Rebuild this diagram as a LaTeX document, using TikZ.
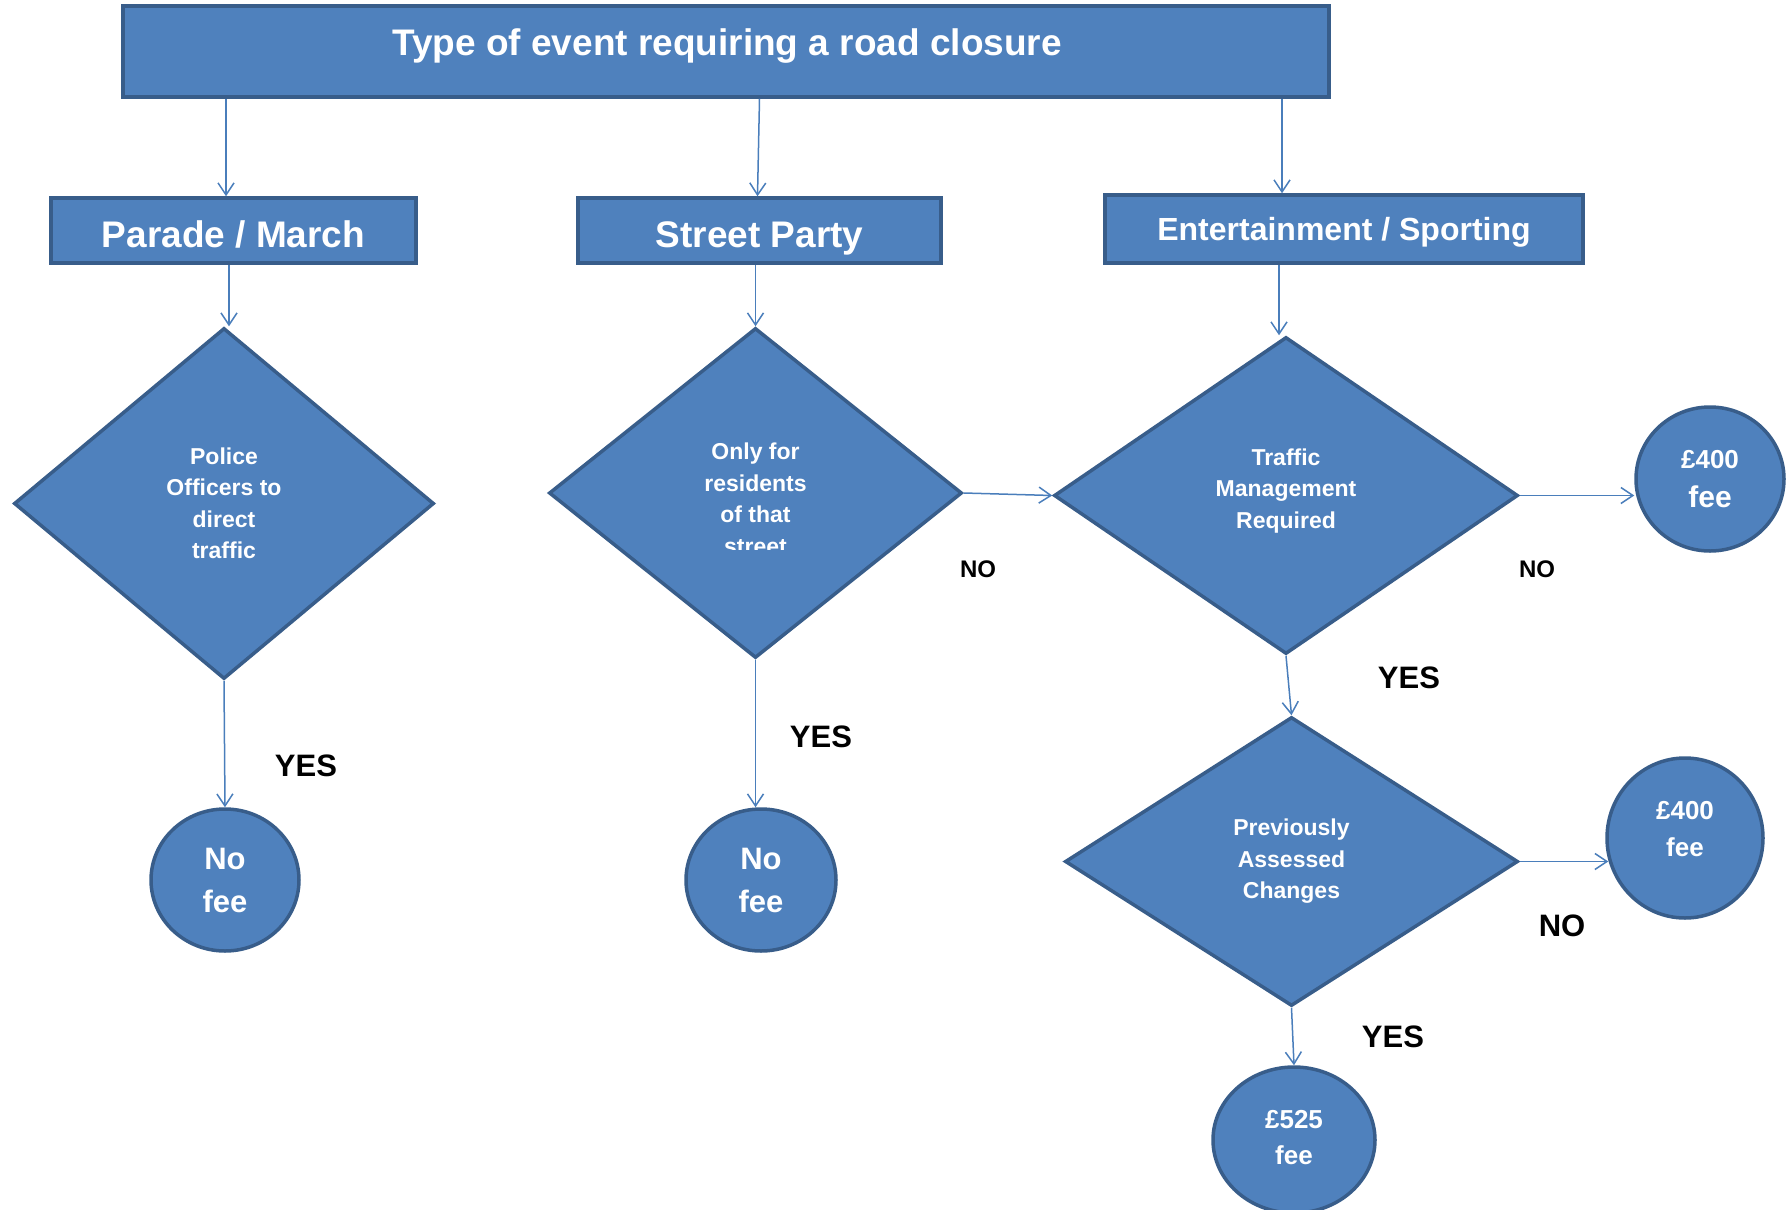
\documentclass[tikz,border=0pt]{standalone}
\usepackage{fontspec}
\setmainfont{Liberation Sans}
\usetikzlibrary{shapes.geometric,arrows.meta,calc}
\definecolor{fillc}{HTML}{4F81BD}
\definecolor{bordc}{HTML}{385D8A}
\definecolor{arrc}{HTML}{4A7EBB}
\begin{document}
\begin{tikzpicture}[x=1pt,y=-1pt,
  box/.style={draw=bordc, fill=fillc, line width=3.5pt, inner sep=0pt, text=white},
  dia/.style={diamond, draw=bordc, fill=fillc, line width=3.5pt, inner sep=0pt, text=white, align=center, font=\bfseries\fontsize{23}{31.5}\selectfont},
  oval/.style={ellipse, draw=bordc, fill=fillc, line width=3.5pt, inner sep=0pt, text=white, align=center},
  arr/.style={draw=arrc, line width=1.5pt, -{Straight Barb[length=12pt,width=16pt]}},
  lblbig/.style={text=black, font=\bfseries\fontsize{31}{31}\selectfont, inner sep=0pt},
  lblsmall/.style={text=black, font=\bfseries\fontsize{24}{24}\selectfont, inner sep=0pt}
]
\useasboundingbox (0,0) rectangle (1792,1210);

% top boxes
\node[box, minimum width=1206pt, minimum height=91pt] (top) at (726,51.5) {};
\node[text=white, font=\bfseries\fontsize{37}{37}\selectfont, inner sep=0pt, text height=26.5pt, text depth=0pt] (toptext) at (727,42) {Type of event requiring a road closure};
\node[box, minimum width=365pt, minimum height=65pt, font=\bfseries\fontsize{37}{37}\selectfont, text height=34pt, text depth=0pt] (pm) at (233.5,230.5) {Parade / March};
\node[box, minimum width=363pt, minimum height=65pt, font=\bfseries\fontsize{37}{37}\selectfont, text height=34pt, text depth=0pt] (sp) at (759.5,230.5) {Street Party};
\node[box, minimum width=478pt, minimum height=68pt, font=\bfseries\fontsize{32}{32}\selectfont, text height=23pt, text depth=0pt] (es) at (1344,229) {Entertainment / Sporting};

% diamonds
\node[dia, minimum width=420pt, minimum height=351pt] (d1) at (224,503.5) {Police\\Officers to\\direct\\traffic};
\node[dia, minimum width=413pt, minimum height=330pt] (d2) at (755.5,493) {};
\begin{scope}
  \clip (600,420) rectangle (910,549);
  \node[text=white, align=center, font=\bfseries\fontsize{23}{31.5}\selectfont, inner sep=0pt] (d2text) at (755.5,499) {Only for\\residents\\of that\\street};
\end{scope}
\node[dia, minimum width=464pt, minimum height=317pt, text depth=14pt] (d3) at (1286,495.5) {Traffic\\Management\\Required};
\node[dia, minimum width=453pt, minimum height=289pt] (d4) at (1291.5,861.5) {Previously\\Assessed\\Changes};

% ovals
\node[oval, minimum width=148pt, minimum height=142pt, font=\bfseries\fontsize{31}{43}\selectfont] (nf1) at (225,880) {No\\fee};
\node[oval, minimum width=150pt, minimum height=142pt, font=\bfseries\fontsize{31}{43}\selectfont] (nf2) at (761,880) {No\\fee};
\node[oval, minimum width=148pt, minimum height=144pt, font=\bfseries\fontsize{30}{39}\selectfont] (ca) at (1710,479) {{\fontsize{26}{39}\selectfont £400}\\fee};
\node[oval, minimum width=156pt, minimum height=160pt, font=\bfseries\fontsize{26}{37}\selectfont, text depth=18pt] (cb) at (1685,838) {£400\\fee};
\node[oval, minimum width=162pt, minimum height=146pt, font=\bfseries\fontsize{26}{36}\selectfont, text depth=6pt] (cc) at (1294,1140) {£525\\fee};

% labels
\node[lblbig] (y1) at (306,766) {YES};
\node[lblbig] (y2) at (821,737) {YES};
\node[lblsmall] (n1) at (978,569) {NO};
\node[lblsmall] (n2) at (1537,569) {NO};
\node[lblbig] (y3) at (1409,678) {YES};
\node[lblbig] (n3) at (1562,926) {NO};
\node[lblbig] (y4) at (1393,1037) {YES};

% connectors
\draw[arr] ([xshift=-500pt]top.south) -- ([xshift=-7.5pt]pm.north);
\draw[arr] ([xshift=0pt]sp.north |- top.south) -- ([xshift=-2pt]sp.north);
\draw[arr] ([xshift=556pt]top.south) -- ([xshift=-62pt]es.north);
\draw[arr] ([xshift=5pt]d1.north |- pm.south) -- ([xshift=5pt]d1.north);
\draw[arr] (d2.north |- sp.south) -- (d2.north);
\draw[arr] ([xshift=-7pt]d3.north |- es.south) -- ([xshift=-7pt]d3.north);
\draw[arr] (d1.south) -- (nf1.north);
\draw[arr] (d2.south) -- (d2.south |- nf2.north);
\draw[arr] (d2.east) -- (d3.west);
\draw[arr] (d3.east) -- (d3.east -| ca.west);
\draw[arr] (d3.south) -- (d4.north);
\draw[arr] (d4.east) -- ([xshift=3pt]d4.east -| cb.west);
\draw[arr] (d4.south) -- (cc.north);
\end{tikzpicture}
\end{document}
